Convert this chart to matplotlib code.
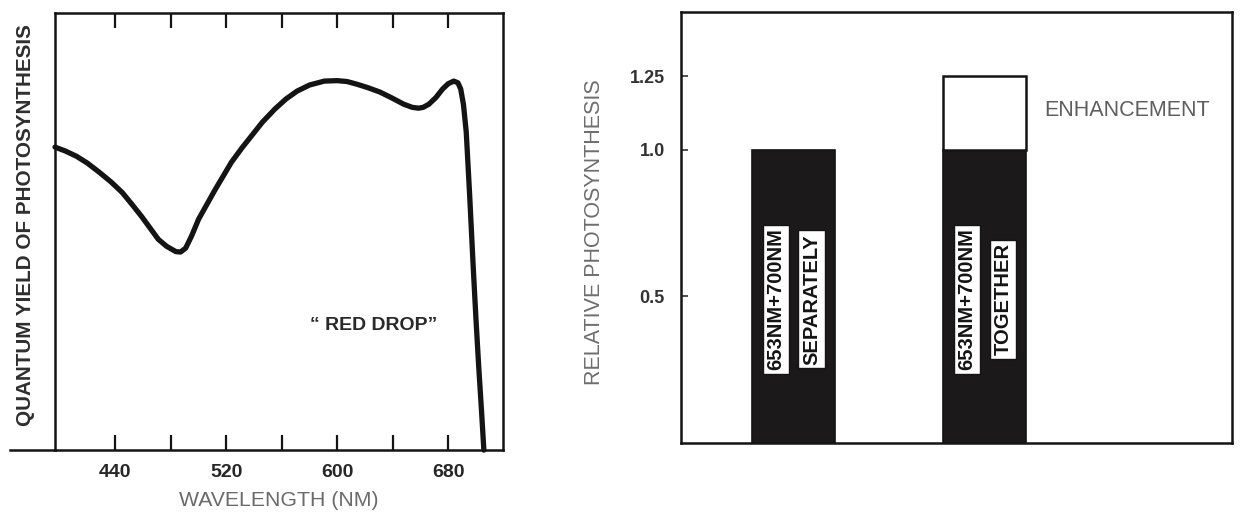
import matplotlib
matplotlib.use("Agg")
import matplotlib.pyplot as plt

# Action spectrum: quantum yield vs wavelength (relative units)
wavelength_nm = [396.5, 404, 412, 420, 428.6, 437, 445, 452, 459, 465, 471, 477,
                 483.6, 487, 490.7, 495, 500, 506, 512, 518, 523.6, 531, 538,
                 546, 555, 563, 571, 580, 590.7, 600, 607, 614, 622, 630.7,
                 639, 648, 654, 658.6, 662, 666, 671, 676, 680, 684, 687, 689,
                 691, 693, 695.5, 698, 700, 702, 704, 705.7]
quantum_yield = [0.693, 0.684, 0.672, 0.656, 0.635, 0.613, 0.589, 0.562, 0.534,
                 0.508, 0.482, 0.466, 0.454, 0.453, 0.462, 0.490, 0.528, 0.562,
                 0.596, 0.628, 0.658, 0.690, 0.718, 0.750, 0.780, 0.803, 0.821,
                 0.835, 0.844, 0.845, 0.843, 0.837, 0.829, 0.819, 0.806, 0.791,
                 0.784, 0.782, 0.784, 0.791, 0.806, 0.826, 0.838, 0.844, 0.840,
                 0.826, 0.790, 0.727, 0.580, 0.420, 0.300, 0.190, 0.090, 0.0]

xtick_positions = [440, 480, 520, 560, 600, 640, 680]
xtick_labels = ["440", "", "520", "", "600", "", "680"]

# Enhancement effect bar chart
bar_base = [1.0, 1.0]
bar_enhancement = [0.0, 0.25]
box_text_a = ["653NM+700NM", "653NM+700NM"]
box_text_b = ["SEPARATELY", "TOGETHER"]
ytick_values = [0.5, 1.0, 1.25]
ytick_labels = ["0.5", "1.0", "1.25"]

plt.rcParams["font.family"] = ["Liberation Sans", "DejaVu Sans"]

fig = plt.figure(figsize=(12.42, 5.15), dpi=100)
fig.patch.set_facecolor("white")

ink = "#141414"

# ---- left panel: red drop ----
ax1 = fig.add_axes([0.0443, 0.126, 0.3607, 0.849])
ax1.plot(wavelength_nm, quantum_yield, color=ink, lw=3.8,
         solid_joinstyle="round", solid_capstyle="round", clip_on=False)
ax1.set_xlim(396.5, 719.5)
ax1.set_ylim(0, 1)
ax1.set_xticks(xtick_positions)
ax1.set_xticklabels(xtick_labels, fontsize=14, fontweight="bold", color="#262626")
ax1.set_yticks([])
ax1.tick_params(axis="x", direction="in", length=11, width=1.6, color=ink,
                top=True, bottom=True, pad=10)
for s in ax1.spines.values():
    s.set_linewidth(1.8)
    s.set_color(ink)
ax1.plot([-0.1, 0.0], [0, 0], transform=ax1.transAxes, color=ink, lw=1.8,
         clip_on=False)
ax1.set_xlabel("WAVELENGTH (NM)", fontsize=15.3, color="#6a6a6a", labelpad=7)
ax1.set_ylabel("QUANTUM YIELD OF PHOTOSYNTHESIS", fontsize=14.9, fontweight="bold",
               color="#2e2e2e")
ax1.yaxis.set_label_coords(-0.045, 0.515)
ax1.text(580.5, 0.286, "\u201c RED DROP\u201d", fontsize=14, fontweight="bold",
         color="#2a2a2a", ha="left", va="center")

# ---- right panel: enhancement ----
ax2 = fig.add_axes([0.548, 0.14, 0.4436, 0.837])
xpos = [0, 1]
bar_w = 0.435
ax2.bar(xpos, bar_base, width=bar_w, color="#1b1919", edgecolor=ink, lw=1.2)
ax2.bar(xpos, bar_enhancement, width=bar_w, bottom=bar_base, color="white",
        edgecolor=[ink if e > 0 else "none" for e in bar_enhancement], lw=1.8)
ax2.set_xlim(-0.59, 2.29)
ax2.set_ylim(0, 1.47)
ax2.set_xticks([])
ax2.set_yticks(ytick_values)
ax2.set_yticklabels(ytick_labels, fontsize=13, fontweight="bold", color="#333333")
ax2.tick_params(axis="y", direction="in", length=5, width=1.2, color="#333333",
                pad=11.5)
for s in ax2.spines.values():
    s.set_linewidth(1.8)
    s.set_color(ink)
ax2.set_ylabel("RELATIVE PHOTOSYNTHESIS", fontsize=15.5, color="#6e6e6e")
ax2.yaxis.set_label_coords(-0.138, 0.49)

box_style = dict(boxstyle="square,pad=0.18", facecolor="white", edgecolor=ink,
                 lw=1.0)
for x, ta, tb in zip(xpos, box_text_a, box_text_b):
    ax2.text(x - 0.092, 0.49, ta, rotation=90, ha="center", va="center",
             fontsize=14.5, fontweight="bold", color=ink, bbox=box_style)
    ax2.text(x + 0.094, 0.49, tb, rotation=90, ha="center", va="center",
             fontsize=14.5, fontweight="bold", color=ink, bbox=box_style)

ax2.text(1.31, 1.135, "ENHANCEMENT", fontsize=15.5, color="#5e5e5e",
         ha="left", va="center")

fig.savefig("out.png", dpi=100, facecolor="white")
